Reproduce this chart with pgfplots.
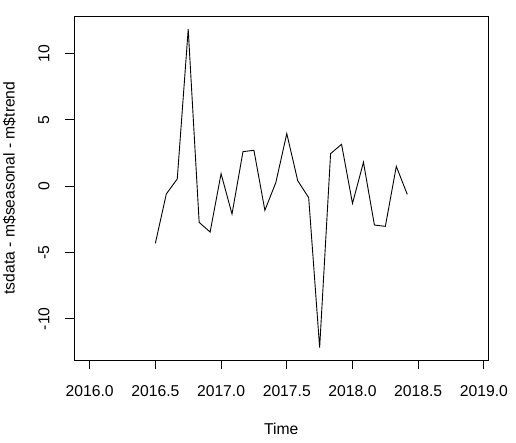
\documentclass[border=0pt]{standalone}
\usepackage{pgfplots}
\pgfplotsset{compat=1.18}
\usepackage{fontspec}
\setmainfont{Liberation Sans}
\begin{document}
\begin{tikzpicture}[x=1pt,y=1pt]
\useasboundingbox (0,0) rectangle (516,442);
\begin{axis}[
  at={(74.3pt,82pt)}, anchor=south west,
  scale only axis, width=414pt, height=344pt,
  xmin=2015.8833, xmax=2019.0333,
  ymin=-13.11, ymax=12.81,
  axis line style={line width=0.9pt},
  tick align=outside, xtick pos=left, ytick pos=left,
  major tick length=9.4pt,
  every tick/.style={black, line width=0.9pt},
  xtick={2016,2016.5,2017,2017.5,2018,2018.5,2019},
  ytick={-10,-5,0,5,10},
  /pgf/number format/assume math mode=true,
  font=\fontsize{15.7}{18}\selectfont,
  xticklabel style={/pgf/number format/fixed, /pgf/number format/fixed zerofill, /pgf/number format/precision=1, /pgf/number format/1000 sep={}, anchor=center, yshift=-22pt},
  yticklabel style={rotate=90, anchor=center, yshift=21pt},
  xlabel={Time},
  ylabel={tsdata - m\$seasonal - m\$trend},
  xlabel style={at={(axis description cs:0.5,0)}, anchor=center, yshift=-68.7pt},
  ylabel style={at={(axis description cs:-0.157,0.5)}, anchor=center},
]
\addplot[black, line width=0.9pt, mark=none] coordinates {
(2016.5000,-4.32) (2016.5833,-0.60) (2016.6667,0.53) (2016.7500,11.81)
(2016.8333,-2.74) (2016.9167,-3.47) (2017.0000,0.93) (2017.0833,-2.11)
(2017.1667,2.59) (2017.2500,2.69) (2017.3333,-1.83) (2017.4167,0.26)
(2017.5000,3.95) (2017.5833,0.40) (2017.6667,-0.88) (2017.7500,-12.18)
(2017.8333,2.44) (2017.9167,3.14) (2018.0000,-1.31) (2018.0833,1.79)
(2018.1667,-2.94) (2018.2500,-3.04) (2018.3333,1.48) (2018.4167,-0.63)
};
\end{axis}
\end{tikzpicture}
\end{document}
